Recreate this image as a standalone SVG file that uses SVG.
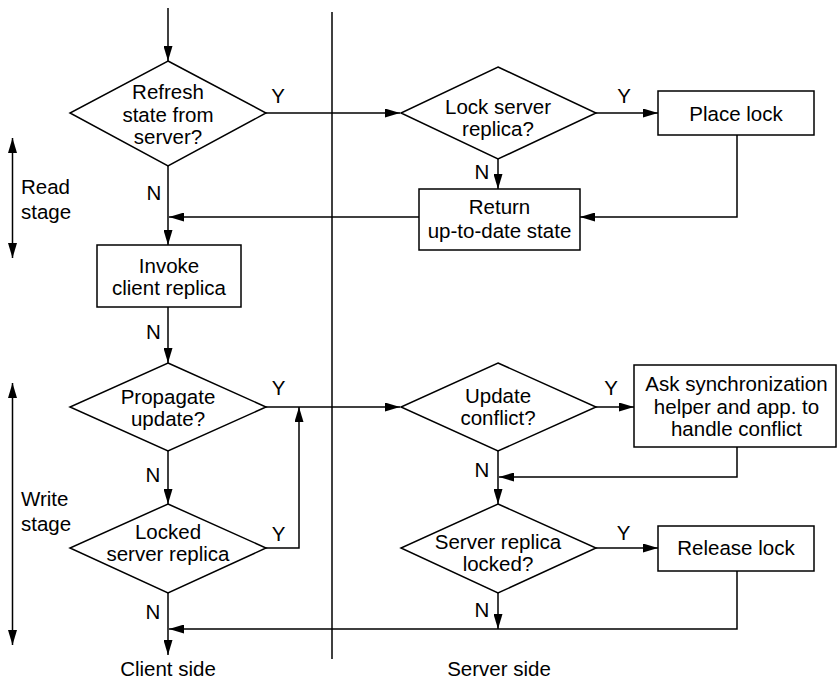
<svg xmlns="http://www.w3.org/2000/svg" width="837" height="680" viewBox="0 0 837 680">
  <defs>
    <marker id="arrow" markerUnits="userSpaceOnUse" markerWidth="15" markerHeight="9" refX="15" refY="4.5" orient="auto">
      <path d="M0,0 L15,4.5 L0,9 z" fill="#000"/>
    </marker>
    <marker id="arrowStart" markerUnits="userSpaceOnUse" markerWidth="15" markerHeight="9" refX="0" refY="4.5" orient="auto">
      <path d="M15,0 L0,4.5 L15,9 z" fill="#000"/>
    </marker>
  </defs>
  <style>
    .shape { fill: #fff; stroke: #000; stroke-width: 1.5; }
    .line { fill: none; stroke: #000; stroke-width: 1.5; }
    .flow { fill: none; stroke: #000; stroke-width: 1.5; marker-end: url(#arrow); }
    text { font-family: "Liberation Sans", Arial, Helvetica, sans-serif; font-size: 20.5px; fill: #000; }
    .c { text-anchor: middle; }
  </style>

  <rect width="837" height="680" fill="#fff"/>

  <!-- client / server divider -->
  <path class="line" d="M332,12 V659"/>

  <!-- stage markers -->
  <g id="read-stage">
    <path class="line" d="M12.5,138 V258" marker-start="url(#arrowStart)" marker-end="url(#arrow)"/>
    <text x="21" y="194">Read</text>
    <text x="21" y="219">stage</text>
  </g>
  <g id="write-stage">
    <path class="line" d="M12.5,383 V645" marker-start="url(#arrowStart)" marker-end="url(#arrow)"/>
    <text x="21" y="506">Write</text>
    <text x="21" y="531">stage</text>
  </g>

  <!-- connectors -->
  <g id="connectors">
    <path class="flow" d="M168,8 V61"/>
    <path class="flow" d="M266,113 H400"/>
    <path class="flow" d="M596,113 H658"/>
    <path class="flow" d="M498,159 V189"/>
    <path class="flow" d="M737,135 V217 H580"/>
    <path class="flow" d="M419,217 H169"/>
    <path class="flow" d="M168,166 V245"/>
    <path class="flow" d="M168,307 V363"/>
    <path class="flow" d="M266,407 H400"/>
    <path class="flow" d="M168,451 V504"/>
    <path class="flow" d="M266,548 H299 V407"/>
    <path class="flow" d="M596,407 H634"/>
    <path class="flow" d="M737,447 V477 H499"/>
    <path class="flow" d="M498,451 V504"/>
    <path class="flow" d="M596,548 H658"/>
    <path class="flow" d="M498,593 V629"/>
    <path class="flow" d="M737,571 V629 H169"/>
    <path class="flow" d="M168,593 V655"/>
  </g>

  <!-- branch labels -->
  <g id="branch-labels" class="c">
    <text x="278" y="103">Y</text>
    <text x="154" y="200">N</text>
    <text x="624" y="103">Y</text>
    <text x="482" y="179">N</text>
    <text x="153.5" y="339">N</text>
    <text x="278.5" y="395">Y</text>
    <text x="153" y="482">N</text>
    <text x="278.5" y="541">Y</text>
    <text x="153" y="619">N</text>
    <text x="611" y="395">Y</text>
    <text x="482" y="477">N</text>
    <text x="623.5" y="540">Y</text>
    <text x="482" y="617">N</text>
  </g>

  <!-- client side -->
  <g id="refresh-state">
    <polygon class="shape" points="168,61 266,113 168,166 70,113"/>
    <text class="c" x="168" y="99">Refresh</text>
    <text class="c" x="168" y="121.5">state from</text>
    <text class="c" x="168" y="143.5">server?</text>
  </g>
  <g id="invoke-client">
    <rect class="shape" x="97" y="245" width="144" height="62"/>
    <text class="c" x="169" y="272.5">Invoke</text>
    <text class="c" x="169" y="294.5">client replica</text>
  </g>
  <g id="propagate-update">
    <polygon class="shape" points="168,363 266,407 168,451 70,407"/>
    <text class="c" x="168" y="404">Propagate</text>
    <text class="c" x="168" y="426">update?</text>
  </g>
  <g id="locked-server-replica">
    <polygon class="shape" points="168,504 266,548 168,593 70,548"/>
    <text class="c" x="168" y="539">Locked</text>
    <text class="c" x="168" y="561">server replica</text>
  </g>

  <!-- server side -->
  <g id="lock-server-replica">
    <polygon class="shape" points="498,67 596,113 498,159 401,113"/>
    <text class="c" x="498" y="113.5">Lock server</text>
    <text class="c" x="498" y="135.5">replica?</text>
  </g>
  <g id="place-lock">
    <rect class="shape" x="658" y="91" width="156" height="44"/>
    <text class="c" x="736" y="121">Place lock</text>
  </g>
  <g id="return-state">
    <rect class="shape" x="419" y="189" width="161" height="61"/>
    <text class="c" x="499.5" y="214">Return</text>
    <text class="c" x="499.5" y="237.5">up-to-date state</text>
  </g>
  <g id="update-conflict">
    <polygon class="shape" points="498,363 596,407 498,451 401,407"/>
    <text class="c" x="498" y="402.5">Update</text>
    <text class="c" x="498" y="425">conflict?</text>
  </g>
  <g id="handle-conflict">
    <rect class="shape" x="634" y="365" width="202" height="82"/>
    <text class="c" x="736.5" y="391">Ask synchronization</text>
    <text class="c" x="736.5" y="413.5">helper and app. to</text>
    <text class="c" x="736.5" y="436">handle conflict</text>
  </g>
  <g id="server-replica-locked">
    <polygon class="shape" points="498,504 596,548 498,593 401,548"/>
    <text class="c" x="498" y="548.5">Server replica</text>
    <text class="c" x="498" y="571">locked?</text>
  </g>
  <g id="release-lock">
    <rect class="shape" x="658" y="526" width="156" height="45"/>
    <text class="c" x="736" y="554.5">Release lock</text>
  </g>

  <!-- side captions -->
  <text class="c" x="168" y="676">Client side</text>
  <text class="c" x="499" y="676">Server side</text>
</svg>
